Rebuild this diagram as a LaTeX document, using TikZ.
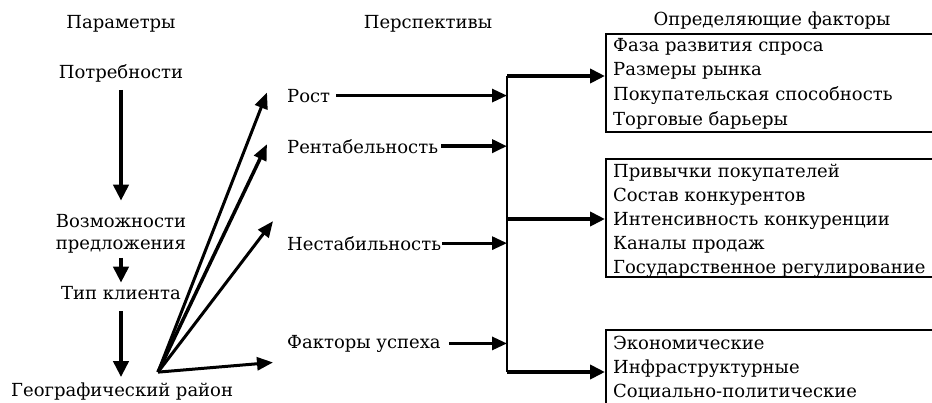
\documentclass[tikz,border=0pt]{standalone}
\usepackage{fontspec}
\setmainfont{DejaVu Serif}
\newfontfamily\boxfont{DejaVu Serif}
\usetikzlibrary{arrows.meta,calc}
\begin{document}
\begin{tikzpicture}[x=1pt,y=-1pt,
  every node/.style={inner sep=0pt},
  txt/.style={font=\fontsize{18}{25}\selectfont, anchor=base},
  txtw/.style={font=\fontsize{18}{25}\selectfont, anchor=base west},
  boxt/.style={font=\boxfont\fontsize{18}{25}\selectfont, anchor=base west},
  boxn/.style={draw, line width=1.5pt, anchor=north west, minimum width=345pt},
  bigarrow/.style={line width=4pt, -{Triangle[length=16pt,width=15pt]}},
  fanarrow/.style={line width=3pt, -{Triangle[length=16pt,width=13pt]}},
  harrow/.style={line width=3pt, -{Triangle[length=15pt,width=13pt]}},
  outarrow/.style={line width=4pt, -{Triangle[length=15pt,width=14pt]}}]
\clip (0,0) rectangle (932,402);
\fill[white] (0,0) rectangle (932,402);

% headers
\node[txt] (hpar) at (121,28) {Параметры};
\node[txt] (hper) at (428,28) {Перспективы};
\node[txt] (hopr) at (772,25) {Определяющие факторы};

% parameters column
\node[txt] (potr) at (121,78) {Потребности};
\node[txt] (vozm) at (121,227) {Возможности};
\node[txt] (pred) at (121,249) {предложения};
\node[txt] (tip) at (121,299) {Тип клиента};
\node[txtw] (geo) at (11,396) {Географический район};

\draw[bigarrow] ($(potr.south)+(0,8)$) -- ($(vozm.north)+(0,-13)$);
\draw[bigarrow] ($(pred.south)+(0,5)$) -- ($(tip.north)+(0,-3)$);
\draw[bigarrow] ($(tip.south)+(0,12)$) -- ($(geo.north west)+(110,-5)$);

% perspectives
\node[txtw] (rost) at (287,102) {Рост};
\node[txtw] (rent) at (287,153) {Рентабельность};
\node[txtw] (nest) at (287,250) {Нестабильность};
\node[txtw] (fakt) at (287,348) {Факторы успеха};

% fan
\coordinate (fan) at ($(geo.north west)+(147,-10)$);
\draw[fanarrow] (fan) -- ($(rost.west)+(-20,-3)$);
\draw[fanarrow, line width=3.5pt] (fan) -- ($(rent.west)+(-20,-2)$);
\draw[fanarrow] (fan) -- ($(nest.west)+(-14,-22)$);
\draw[fanarrow] (fan) -- ($(fakt.west)+(-14,19)$);

% junction
\coordinate (jtop) at (507,76);
\coordinate (jmid) at (507,219);
\coordinate (jbot) at (507,372);
\draw[line width=2pt] (jtop) -- (jbot);

\draw[harrow] ($(rost.east)+(6,0)$) -- (rost.east -| jtop);
\draw[harrow, line width=4.5pt] ($(rent.east)+(3,0)$) -- (rent.east -| jtop);
\draw[harrow] ($(nest.east)+(1,0)$) -- (nest.east -| jtop);
\draw[harrow] ($(fakt.east)+(8,0)$) -- (fakt.east -| jtop);

% factor boxes
\node[boxn, minimum height=98pt] (b1) at (605,33) {};
\node[boxn, minimum height=118pt] (b2) at (605,158) {};
\node[boxn, minimum height=90pt] (b3) at (605,329) {};

\foreach \t [count=\i] in {Фаза развития спроса, Размеры рынка,
    Покупательская способность, Торговые барьеры}
  \node[boxt] (b1l\i) at (613,{51+24.7*(\i-1)}) {\t};
\foreach \t [count=\i] in {Привычки покупателей, Состав конкурентов,
    Интенсивность конкуренции, Каналы продаж, Государственное регулирование}
  \node[boxt] (b2l\i) at (613,{177.5+24*(\i-1)}) {\t};
\foreach \t [count=\i] in {Экономические, Инфраструктурные, Социально-политические}
  \node[boxt] (b3l\i) at (613,{349+24*(\i-1)}) {\t};

\draw[outarrow] (jtop) -- (jtop -| b1.west);
\draw[outarrow] (jmid) -- (jmid -| b2.west);
\draw[outarrow] (jbot) -- (jbot -| b3.west);
\end{tikzpicture}
\end{document}
